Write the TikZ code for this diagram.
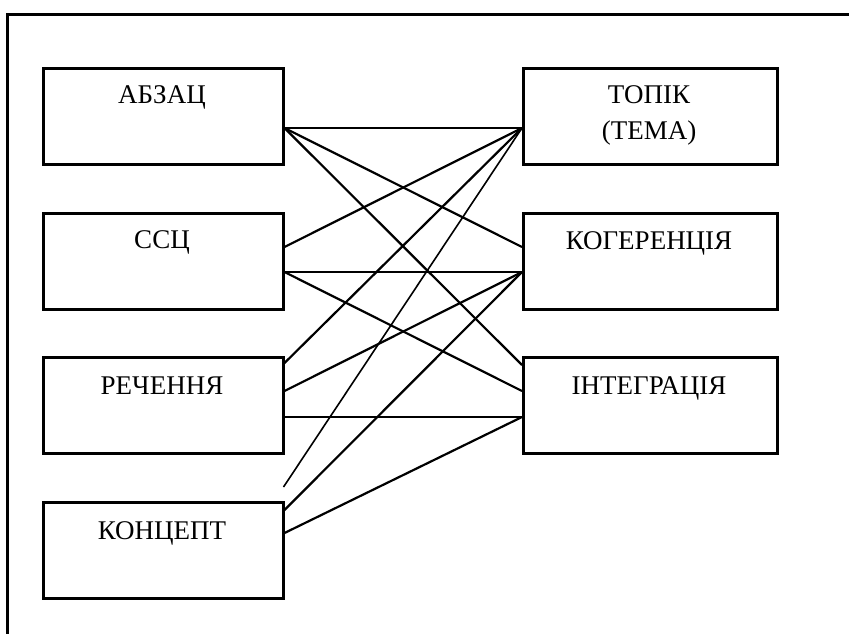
\documentclass[tikz,border=0pt]{standalone}
\usepackage{fontspec}
\setmainfont{Liberation Serif}
\usetikzlibrary{calc}
\begin{document}
\begin{tikzpicture}[x=1pt,y=-1pt,
  leftbox/.style={draw,line width=2.5pt,minimum width=240pt,minimum height=96pt,inner sep=0pt,anchor=north west},
  rightbox/.style={draw,line width=2.5pt,minimum width=254pt,minimum height=96pt,inner sep=0pt,anchor=north west},
  lbl/.style={anchor=base,inner sep=0pt,font=\fontsize{27}{36}\selectfont},
  link/.style={line width=2.2pt},
  thinlink/.style={line width=1.6pt}]
\useasboundingbox (0,0) rectangle (849,633);
% open outer frame
\coordinate (fb) at (7.5,640);
\coordinate (fc) at (7.5,14.5);
\coordinate (fr) at (860,14.5);
\draw[line width=2.5pt] (fb) -- (fc) -- (fr);

% left column
\node[leftbox] (abzac) at (42,67) {};
\node[leftbox] (ssc)   at (42,212) {};
\node[leftbox] (rech)  at (42,356) {};
\node[leftbox] (konc)  at (42,501) {};
% right column
\node[rightbox] (topic) at (522,67) {};
\node[rightbox] (koh)   at (522,212) {};
\node[rightbox] (integ) at (522,356) {};

% labels
\node[lbl] (tabzac) at (162,103) {АБЗАЦ};
\node[lbl] (tssc)   at (162,248) {ССЦ};
\node[lbl] (trech)  at (162,394) {РЕЧЕННЯ};
\node[lbl] (tkonc)  at (162,539) {КОНЦЕПТ};
\node[lbl] (ttopic) at (649,103) {ТОПІК};
\node[lbl] (ttema)  at (649,139) {(ТЕМА)};
\node[lbl] (tkoh)   at (649,249) {КОГЕРЕНЦІЯ};
\node[lbl] (tinteg) at (649,394) {ІНТЕГРАЦІЯ};

% attachment points on the box sides
\coordinate (a1) at ($(abzac.north east)+(0,61)$);
\coordinate (s1) at ($(ssc.north east)+(0,35)$);
\coordinate (s2) at ($(ssc.north east)+(0,60)$);
\coordinate (r1) at ($(rech.north east)+(0,7)$);
\coordinate (r2) at ($(rech.north east)+(0,35)$);
\coordinate (r3) at ($(rech.north east)+(0,61)$);
\coordinate (kfree) at ($(konc.north east)+(-1,-14)$);
\coordinate (k2) at ($(konc.north east)+(0,9)$);
\coordinate (k3) at ($(konc.north east)+(0,32)$);
\coordinate (t1) at ($(topic.north west)+(0,61)$);
\coordinate (h1) at ($(koh.north west)+(0,35)$);
\coordinate (h2) at ($(koh.north west)+(0,60)$);
\coordinate (i1) at ($(integ.north west)+(0,9)$);
\coordinate (i2) at ($(integ.north west)+(0,35)$);
\coordinate (i3) at ($(integ.north west)+(0,61)$);

% connectors
\draw[link] (a1) -- (t1);
\draw[link] (a1) -- (h1);
\draw[link] (a1) -- (i1);
\draw[link] (s1) -- (t1);
\draw[link] (s2) -- (h2);
\draw[link] (s2) -- (i2);
\draw[link] (r1) -- (t1);
\draw[link] (r2) -- (h2);
\draw[link] (r3) -- (i3);
\draw[thinlink] (kfree) -- (t1);
\draw[link] (k2) -- (h2);
\draw[link] (k3) -- (i3);
\end{tikzpicture}
\end{document}
